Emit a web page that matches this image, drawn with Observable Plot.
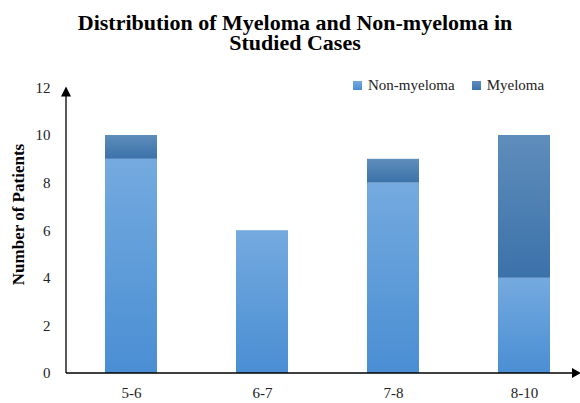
<!DOCTYPE html>
<html>
<head>
<meta charset="utf-8">
<script src="https://cdn.jsdelivr.net/npm/d3@7"></script>
<script src="https://cdn.jsdelivr.net/npm/@observablehq/plot@0.6"></script>
<style>
  body { margin: 0; background: #fff; font-family: "Liberation Serif", "Times New Roman", serif; }
  #wrap { position: relative; width: 580px; height: 403px; }
  #title { position: absolute; left: 0; top: 13px; width: 590px; text-align: center; font-weight: bold; font-size: 22px; line-height: 20px; color: #000; }
  #legend { position: absolute; top: 77px; left: 353px; font-size: 15px; color: #222; display: flex; align-items: center; }
  #legend span.sw { display: inline-block; width: 9px; height: 9px; margin-right: 6px; }
  #legend span.item { display: inline-flex; align-items: center; margin-right: 17px; }
  #chart { position: absolute; left: 0; top: 60px; }
</style>
</head>
<body>
<div id="wrap">
  <div id="title">Distribution of Myeloma and Non-myeloma in<br>Studied Cases</div>
  <div id="chart"></div>
  <div id="legend"></div>
</div>
<script>
const categories = ["5-6", "6-7", "7-8", "8-10"];
const seriesNames = ["Non-myeloma", "Myeloma"];
const nonMyeloma = [9, 6, 8, 4];
const myeloma = [1, 0, 1, 6];
const yTicks = [0, 2, 4, 6, 8, 10, 12];
const yLabel = "Number of Patients";

const gradients = {
  "Non-myeloma": ["#74aadf", "#4a8ed3"],
  "Myeloma": ["#5f8dbb", "#3b72aa"]
};
const gradId = {"Non-myeloma": "gNon", "Myeloma": "gMy"};

const rows = [];
seriesNames.forEach((s, si) => {
  const vals = si === 0 ? nonMyeloma : myeloma;
  categories.forEach((c, i) => { if (vals[i] > 0) rows.push({range: c, type: s, value: vals[i]}); });
});
const data = categories.flatMap(c => rows.filter(r => r.range === c));

const W = 580, H = 343;
const defs = () => {
  const d = d3.create("svg:defs");
  for (const s of seriesNames) {
    const g = d.append("linearGradient").attr("id", gradId[s]).attr("x1", 0).attr("y1", 0).attr("x2", 0).attr("y2", 1);
    g.append("stop").attr("offset", "0%").attr("stop-color", gradients[s][0]);
    g.append("stop").attr("offset", "100%").attr("stop-color", gradients[s][1]);
  }
  return d.node();
};

const axesLines = (index, scales) => {
  const y0 = scales.y(0), yTop = scales.y(d3.max(yTicks));
  const xL = 66, xR = 573;
  const g = d3.create("svg:g").attr("fill", "#000").attr("stroke", "#000");
  g.append("line").attr("x1", xL).attr("x2", xL).attr("y1", y0).attr("y2", yTop + 8).attr("stroke-width", 1.3);
  g.append("path").attr("stroke", "none").attr("d", `M${xL - 5},${yTop + 9}L${xL + 5},${yTop + 9}L${xL},${yTop - 1}Z`);
  g.append("line").attr("x1", xL).attr("x2", xR).attr("y1", y0).attr("y2", y0).attr("stroke-width", 1.3);
  g.append("path").attr("stroke", "none").attr("d", `M${xR - 1},${y0 - 5}L${xR - 1},${y0 + 5}L${xR + 8},${y0}Z`);
  return g.node();
};

const plot = Plot.plot({
  width: W,
  height: H,
  marginTop: 27,
  marginBottom: 30,
  marginLeft: 66,
  marginRight: 0,
  style: {fontFamily: "Liberation Serif, Times New Roman, serif", fontSize: "15px", color: "#222", background: "transparent", overflow: "visible"},
  x: {domain: categories, range: [66, 590], paddingInner: 0.6, paddingOuter: 0.3, align: 0.5},
  y: {domain: [0, 12], range: [313, 27.4]},
  color: {domain: seriesNames, range: seriesNames.map(s => `url(#${gradId[s]})`)},
  marks: [
    defs,
    Plot.barY(data, Plot.stackY({x: "range", y: "value", fill: "type", order: null})),
    Plot.axisY({ticks: yTicks, tickSize: 0, tickPadding: 16, label: null, fontSize: 15}),
    Plot.axisX({tickSize: 0, tickPadding: 14, label: null, fontSize: 15}),
    Plot.text([yLabel], {frameAnchor: "left", dx: -48, dy: -16, rotate: -90, textAnchor: "middle", fontWeight: "bold", fontSize: 17, fill: "#000"}),
    axesLines
  ]
});
document.getElementById("chart").appendChild(plot);

const leg = document.getElementById("legend");
for (const s of seriesNames) {
  const item = document.createElement("span");
  item.className = "item";
  item.innerHTML = `<span class="sw" style="background:linear-gradient(${gradients[s][0]},${gradients[s][1]})"></span>${s}`;
  leg.appendChild(item);
}
</script>
</body>
</html>
